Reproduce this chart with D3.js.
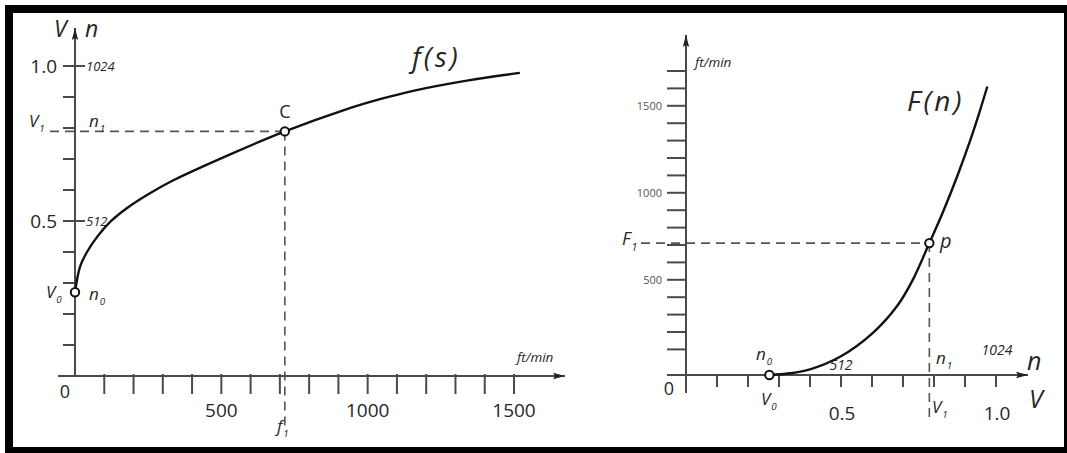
<!DOCTYPE html>
<html><head><meta charset="utf-8">
<script src="https://cdn.jsdelivr.net/npm/d3@7"></script>
<style>
html,body{margin:0;padding:0;background:#fff;}
svg{display:block;font-family:"Open Sans","DejaVu Sans",sans-serif;}
</style></head>
<body>
<svg id="chart" width="1067" height="453"></svg>
<script>
// ---------- data ----------
// left chart f(s): speed s (ft/min) -> V (and n)
const leftS = [0, 17, 41, 75, 120, 178, 246, 331, 540, 717, 929, 1042, 1155, 1339, 1520];
const leftV = [0.27, 0.352, 0.40, 0.448, 0.497, 0.542, 0.584, 0.629, 0.719, 0.789, 0.861, 0.893, 0.920, 0.953, 0.978];
const leftXTicks = [100,200,300,400,500,600,700,800,900,1000,1100,1200,1300,1400,1500];
const leftXLabels = [500, 1000, 1500];
const leftYTicks = [0.1,0.2,0.3,0.4,0.5,0.6,0.7,0.8,0.9,1.0];
const leftYLabels = [{v:1.0, t:"1.0", n:"1024"}, {v:0.5, t:"0.5", n:"512"}];
const pointC = {s:717, v:0.789};
const pointV0L = {s:0, v:0.27};

// right chart F(n): V (and n) -> speed (ft/min)
const rightV = [0.269, 0.335, 0.40, 0.497, 0.603, 0.681, 0.732, 0.785, 0.829, 0.874, 0.916, 0.945, 0.972];
const rightF = [0, 6.6, 22, 71, 195, 349, 501, 711, 890, 1091, 1297, 1454, 1611];
const rightYTicks = d3.range(0, 1701, 100);
const rightYLabels = [500, 1000, 1500];
const rightXTicks = [0.1,0.2,0.3,0.4,0.5,0.6,0.7,0.8,0.9,1.0];
const rightXLabels = [{v:0.5, t:"0.5"}, {v:1.0, t:"1.0"}];
const pointP = {v:0.785, f:711};
const pointV0R = {v:0.269, f:0};

// ---------- setup ----------
const svg = d3.select("#chart");
const axisCol = "#4a4a4a", inkCol = "#111", txtCol = "#262626";

// frame
const frame = svg.append("g").attr("fill","#000");
frame.append("rect").attr("x",5).attr("y",5).attr("width",1062).attr("height",8);
frame.append("rect").attr("x",5).attr("y",5).attr("width",8).attr("height",448);
frame.append("rect").attr("x",5).attr("y",447).attr("width",1062).attr("height",6);
frame.append("rect").attr("x",1064).attr("y",5).attr("width",3).attr("height",448);

const defs = svg.append("defs");
defs.append("marker").attr("id","arr").attr("viewBox","0 0 12 8")
  .attr("refX",12).attr("refY",4).attr("markerWidth",12).attr("markerHeight",8)
  .attr("markerUnits","userSpaceOnUse").attr("orient","auto")
  .append("path").attr("d","M0,0.8 L12,4 L0,7.2 L2,4 Z").attr("fill","#222");

function label(g, x, y, main, sub, size, opts={}) {
  const t = g.append("text").attr("x",x).attr("y",y)
    .attr("font-size",size).attr("fill",opts.fill||txtCol)
    .attr("font-style",opts.italic===false?"normal":"italic")
    .attr("text-anchor",opts.anchor||"start");
  if (opts.ls) t.attr("letter-spacing", opts.ls);
  t.append("tspan").text(main);
  if (sub) t.append("tspan").attr("font-size",size*0.58).attr("dy",size*0.32).attr("dx",1).text(sub);
  return t;
}

// ================= LEFT CHART =================
const xL = d3.scaleLinear().domain([0,1500]).range([75,514]);
const yL = d3.scaleLinear().domain([0,1]).range([376,66]);
const gL = svg.append("g");

// dashed guides
const dash = "9,6";
gL.append("line").attr("x1",xL(0)-25).attr("x2",xL(pointC.s)).attr("y1",yL(pointC.v)).attr("y2",yL(pointC.v))
  .attr("stroke","#555").attr("stroke-width",1.6).attr("stroke-dasharray",dash);
gL.append("line").attr("x1",xL(pointC.s)).attr("x2",xL(pointC.s)).attr("y1",yL(pointC.v)).attr("y2",yL(0)+52)
  .attr("stroke","#555").attr("stroke-width",1.6).attr("stroke-dasharray",dash);

// x axis
gL.append("line").attr("x1",xL(0)-17).attr("x2",xL(1500)+51).attr("y1",yL(0)).attr("y2",yL(0))
  .attr("stroke",axisCol).attr("stroke-width",2).attr("marker-end","url(#arr)");
gL.selectAll(".xt").data(leftXTicks).join("line")
  .attr("x1",d=>xL(d)).attr("x2",d=>xL(d)).attr("y1",yL(0)-2).attr("y2",yL(0)+18)
  .attr("stroke",axisCol).attr("stroke-width",2);
gL.selectAll(".xl").data(leftXLabels).join("text")
  .attr("x",d=>xL(d)).attr("y",yL(0)+41).attr("text-anchor","middle")
  .attr("font-size",19).attr("fill",txtCol).text(d=>d);
label(gL, xL(0)-10, yL(0)+22, "0", null, 18, {italic:false, anchor:"middle"});
label(gL, 517, 362, "ft/min", null, 13.5);

// y axis
gL.append("line").attr("x1",xL(0)).attr("x2",xL(0)).attr("y1",yL(0)).attr("y2",yL(1)-38)
  .attr("stroke",axisCol).attr("stroke-width",2).attr("marker-end","url(#arr)");
gL.selectAll(".yt").data(leftYTicks).join("line")
  .attr("x1",xL(0)-12).attr("x2",d=> (d===1||d===0.5)? xL(0)+10 : xL(0))
  .attr("y1",d=>yL(d)).attr("y2",d=>yL(d))
  .attr("stroke",axisCol).attr("stroke-width",2);
leftYLabels.forEach(d=>{
  label(gL, xL(0)-18, yL(d.v)+7, d.t, null, 19, {italic:false, anchor:"end"});
  label(gL, xL(0)+11, yL(d.v)+5, d.n, null, 13);
});
label(gL, 54, 37, "V", null, 23);
label(gL, 85, 37, "n", null, 23);
label(gL, 29, 127, "V", "1", 17);
label(gL, 89, 127, "n", "1", 17);
label(gL, 46, 298, "V", "0", 17);
label(gL, 89, 300, "n", "0", 17);
label(gL, 277, 432, "f", "1", 17);
label(gL, xL(pointC.s), yL(pointC.v)-13, "C", null, 18, {italic:false, anchor:"middle"});
label(gL, 412, 67, "f(s)", null, 28, {ls:3});

// curve
gL.append("path").datum(leftS)
  .attr("d", d3.line().x((d,i)=>xL(leftS[i])).y((d,i)=>yL(leftV[i])).curve(d3.curveCatmullRom.alpha(0.5)))
  .attr("fill","none").attr("stroke",inkCol).attr("stroke-width",2.4);
[pointV0L, pointC].forEach(p=>{
  gL.append("circle").attr("cx",xL(p.s)).attr("cy",yL(p.v)).attr("r",4.2)
    .attr("fill","#fff").attr("stroke",inkCol).attr("stroke-width",2);
});

// ================= RIGHT CHART =================
const xR = d3.scaleLinear().domain([0,1]).range([686,996]);
const yR = d3.scaleLinear().domain([0,100,1700]).range([375,349.4,71]);
const gR = svg.append("g");

gR.append("line").attr("x1",xR(0)-45).attr("x2",xR(pointP.v)).attr("y1",yR(pointP.f)).attr("y2",yR(pointP.f))
  .attr("stroke","#555").attr("stroke-width",1.6).attr("stroke-dasharray",dash);
gR.append("line").attr("x1",xR(pointP.v)).attr("x2",xR(pointP.v)).attr("y1",yR(pointP.f)).attr("y2",yR(0)+42)
  .attr("stroke","#555").attr("stroke-width",1.6).attr("stroke-dasharray",dash);

// y axis
gR.append("line").attr("x1",xR(0)).attr("x2",xR(0)).attr("y1",yR(0)+18).attr("y2",yR(1700)-36)
  .attr("stroke",axisCol).attr("stroke-width",2).attr("marker-end","url(#arr)");
gR.selectAll(".yt").data(rightYTicks).join("line")
  .attr("x1",xR(0)-19).attr("x2",xR(0)).attr("y1",d=>yR(d)).attr("y2",d=>yR(d))
  .attr("stroke",axisCol).attr("stroke-width",2);
gR.selectAll(".yl").data(rightYLabels).join("text")
  .attr("x",xR(0)-24).attr("y",d=>yR(d)+4).attr("text-anchor","end")
  .attr("font-size",11).attr("fill","#555").text(d=>d);
label(gR, 695, 67, "ft/min", null, 13.5);

// x axis
gR.append("line").attr("x1",xR(0)-3).attr("x2",xR(1)+32).attr("y1",yR(0)).attr("y2",yR(0))
  .attr("stroke",axisCol).attr("stroke-width",2).attr("marker-end","url(#arr)");
gR.selectAll(".xt").data(rightXTicks).join("line")
  .attr("x1",d=>xR(d)).attr("x2",d=>xR(d)).attr("y1",yR(0)-1).attr("y2",yR(0)+12)
  .attr("stroke",axisCol).attr("stroke-width",2);
rightXLabels.forEach(d=>{
  label(gR, xR(d.v)+1, yR(0)+45, d.t, null, 19, {italic:false, anchor:"middle"});
});
label(gR, xR(0)-17, yR(0)+20, "0", null, 18, {italic:false, anchor:"middle"});
label(gR, xR(0.5), yR(0)-5, "512", null, 14, {anchor:"middle"});
label(gR, xR(1)+1, yR(0)-20, "1024", null, 14, {anchor:"middle"});
label(gR, 756, 360, "n", "0", 17);
label(gR, 761, 405, "V", "0", 17);
label(gR, 936, 364, "n", "1", 17);
label(gR, 932, 413, "V", "1", 17);
label(gR, 1027, 370, "n", null, 25);
label(gR, 1029, 408, "V", null, 25);
label(gR, 622, 245, "F", "1", 18);
label(gR, 940, 248, "p", null, 20);
label(gR, 907, 111, "F(n)", null, 28, {ls:3});

gR.append("path").datum(rightV)
  .attr("d", d3.line().x((d,i)=>xR(rightV[i])).y((d,i)=>yR(rightF[i])).curve(d3.curveCatmullRom.alpha(0.5)))
  .attr("fill","none").attr("stroke",inkCol).attr("stroke-width",2.4);
[pointV0R, pointP].forEach(p=>{
  gR.append("circle").attr("cx",xR(p.v)).attr("cy",yR(p.f)).attr("r",4.2)
    .attr("fill","#fff").attr("stroke",inkCol).attr("stroke-width",2);
});
</script>
</body></html>
